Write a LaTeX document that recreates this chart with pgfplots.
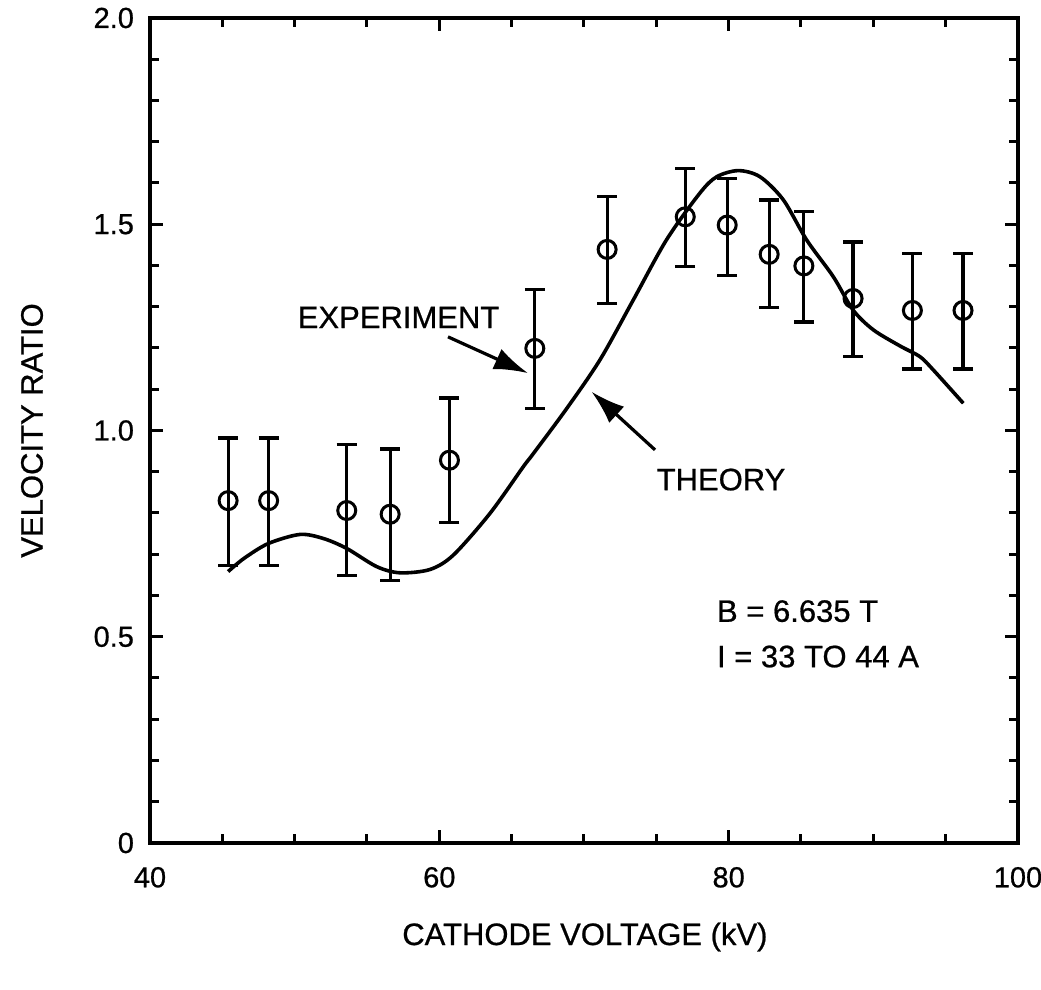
\documentclass[border=0pt]{standalone}
\usepackage{fontspec}
\setmainfont{Liberation Sans}[UprightFeatures={FakeBold=0.7}]
\usepackage{pgfplots}
\pgfplotsset{compat=1.18}
\usepackage{pgfplotstable}
\usetikzlibrary{arrows.meta}

% Measured velocity ratio with error bars: x, y, +err, -err
\pgfplotstableread{
x     y      ep     em
45.4  0.830  0.152  0.158
48.2  0.830  0.152  0.158
53.6  0.806  0.160  0.158
56.6  0.797  0.158  0.160
60.7  0.928  0.151  0.152
66.6  1.199  0.142  0.146
71.6  1.439  0.128  0.132
77.0  1.518  0.117  0.121
79.9  1.498  0.112  0.122
82.8  1.427  0.132  0.129
85.2  1.399  0.131  0.136
88.6  1.320  0.137  0.141
92.7  1.291  0.138  0.142
96.2  1.291  0.138  0.142
}\experiment

% Theoretical curve
\pgfplotstableread{
x      y
45.40  0.658
46.50  0.690
48.18  0.726
50.37  0.748
52.00  0.738
53.60  0.714
55.67  0.670
57.28  0.655
59.35  0.663
60.97  0.698
63.50  0.799
65.80  0.912
66.50  0.944
68.80  1.053
71.10  1.171
73.40  1.316
75.70  1.462
78.00  1.575
79.17  1.615
80.67  1.630
82.17  1.615
83.78  1.559
85.39  1.462
87.23  1.373
88.60  1.292
90.00  1.244
91.84  1.205
93.22  1.179
94.14  1.147
96.22  1.066
}\theory

\begin{document}
\begin{tikzpicture}
\useasboundingbox (-75pt,-73.5pt) rectangle (445.5pt,421.5pt);
\begin{axis}[
  at={(0pt,0pt)}, anchor=south west,
  scale only axis,
  width=434pt, height=412.5pt,
  xmin=40, xmax=100, ymin=0, ymax=2,
  xtick={40,60,80,100},
  minor x tick num=3,
  ytick={0,0.5,1,1.5,2},
  yticklabels={0,0.5,1.0,1.5,2.0},
  minor y tick num=4,
  tick align=inside,
  major tick length=6.5pt,
  minor tick length=4.5pt,
  every tick/.style={line width=1.5pt, black},
  axis line style={line width=1.8pt},
  /pgf/number format/assume math mode=true,
  tick label style={font=\fontsize{14.5}{17}\selectfont},
  xticklabel style={anchor=north, yshift=-8.5pt},
  yticklabel style={anchor=east, xshift=-4.5pt},
  xlabel={CATHODE VOLTAGE (kV)},
  ylabel={VELOCITY RATIO},
  label style={font=\fontsize{15.5}{18}\selectfont},
  xlabel style={at={(axis description cs:0.501,0)}, anchor=center, yshift=-47pt},
  ylabel style={at={(axis description cs:0,0.5)}, anchor=center, yshift=59pt},
  clip=false,
]
\addplot[black, line width=1.8pt, smooth, tension=0.5] table[x=x, y=y] {\theory};
\addplot[black, only marks, mark=o, mark size=4.5pt,
  mark options={line width=1.5pt},
  error bars/.cd, y dir=both, y explicit,
  error mark=-,
  error mark options={rotate=90, line width=1.6pt, mark size=5pt},
  error bar style={line width=1.6pt}]
  table[x=x, y=y, y error plus=ep, y error minus=em] {\experiment};

\node[font=\fontsize{15.5}{18}\selectfont] at (axis cs:57.18,1.274) {EXPERIMENT};
\draw[line width=1.6pt, -{Latex[length=17pt,width=11pt]}] (axis cs:60.6,1.227) -- (axis cs:66.13,1.139);
\node[font=\fontsize{15.5}{18}\selectfont] at (axis cs:79.47,0.881) {THEORY};
\draw[line width=1.6pt, -{Latex[length=17pt,width=11pt]}] (axis cs:74.91,0.953) -- (axis cs:70.52,1.094);
\node[font=\fontsize{15.5}{18}\selectfont, anchor=west, inner sep=0pt] at (axis cs:79.17,0.562) {B = 6.635 T};
\node[font=\fontsize{15.5}{18}\selectfont, anchor=west, inner sep=0pt] at (axis cs:79.17,0.452) {I = 33 TO 44 A};
\end{axis}
\end{tikzpicture}
\end{document}
